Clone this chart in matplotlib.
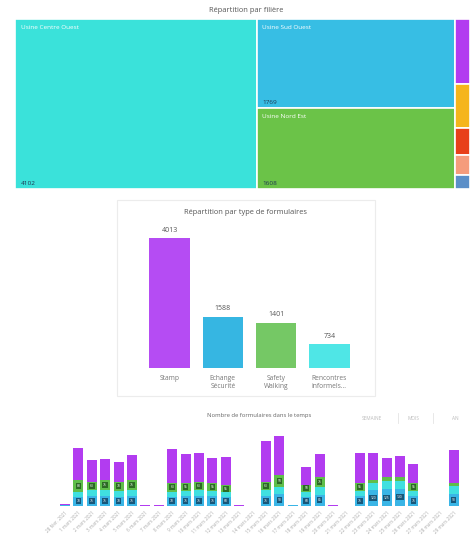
import numpy as np
import matplotlib.pyplot as plt
from matplotlib.patches import Rectangle, FancyBboxPatch
from matplotlib.lines import Line2D

plt.rcParams['font.family'] = ['Open Sans', 'DejaVu Sans']

W, H = 470., 536.

# --- treemap : repartition par filiere
filieres = ['Usine Centre Ouest', 'Usine Sud Ouest', 'Usine Nord Est',
            'Usine Nord', 'Usine Est', 'Usine Sud', 'Usine Ouest', 'Siège']
filiere_vals = [4102, 1769, 1608, 95, 64, 40, 30, 20]
filiere_cols = ['#3AE2DA', '#37BEE4', '#6BC348', '#B23CF0',
                '#F5B51C', '#E8401A', '#F59C7C', '#5B8FC8']
tree_groups = [[0], [1, 2], [3, 4, 5, 6, 7]]

# --- barres : repartition par type de formulaires
types = ['Stamp', 'Echange\nSécurité', 'Safety\nWalking', 'Rencontres\ninformels...']
type_vals = [4013, 1588, 1401, 734]
type_cols = ['#B54CF3', '#36B6E2', '#75C865', '#4FE6E6']

# --- barres empilees : nombre de formulaires dans le temps
jours = ['28 févr. 2021', '1 mars 2021', '2 mars 2021', '3 mars 2021', '4 mars 2021',
         '5 mars 2021', '6 mars 2021', '7 mars 2021', '8 mars 2021', '9 mars 2021',
         '10 mars 2021', '11 mars 2021', '12 mars 2021', '13 mars 2021', '14 mars 2021',
         '15 mars 2021', '16 mars 2021', '17 mars 2021', '18 mars 2021', '19 mars 2021',
         '20 mars 2021', '21 mars 2021', '22 mars 2021', '23 mars 2021', '24 mars 2021',
         '25 mars 2021', '26 mars 2021', '27 mars 2021', '28 mars 2021', '29 mars 2021']
echange    = [8, 70, 75, 75, 70, 75, 3, 2, 70, 75, 75, 75, 68, 3, 1,
              75, 90, 4, 68, 85, 2, 1, 75, 120, 125, 130, 75, 1, 1, 90]
rencontres = [0, 38, 45, 45, 43, 45, 0, 0, 38, 40, 45, 40, 35, 0, 0,
              45, 50, 0, 40, 55, 0, 0, 40, 50, 60, 55, 40, 0, 0, 60]
safety     = [0, 88, 63, 75, 70, 75, 0, 0, 63, 55, 63, 55, 55, 0, 0,
              63, 93, 0, 50, 75, 0, 0, 55, 25, 30, 30, 55, 0, 0, 20]
stamp      = [6, 240, 163, 158, 150, 188, 2, 2, 255, 225, 213, 193, 213, 2, 1,
              308, 295, 5, 138, 180, 2, 1, 230, 205, 150, 160, 150, 1, 2, 255]
series = [('Echange Sécurité', echange, '#3AB5E6', '#17577A'),
          ('Rencontres informelles', rencontres, '#40E0E0', None),
          ('Safety Walking', safety, '#5FBE4A', '#2C6A25'),
          ('Stamp', stamp, '#B23CF0', None)]
boutons = ['SEMAINE', 'MOIS', 'AN']


def box(x0, y0, x1, y1):
    # pixel box (top-left origin) -> figure fraction
    return [x0 / W, 1 - y1 / H, (x1 - x0) / W, (y1 - y0) / H]


fig = plt.figure(figsize=(4.7, 5.36), dpi=100)

# ---------------- treemap
ax1 = fig.add_axes(box(15, 19, 470, 189))
ax1.set_xlim(0, 1)
ax1.set_ylim(0, 1)
ax1.axis('off')
total = float(sum(filiere_vals))
x0 = 0.
for grp in tree_groups:
    gsum = float(sum(filiere_vals[i] for i in grp))
    w = gsum / total
    y0 = 1.
    for i in grp:
        h = filiere_vals[i] / gsum
        ax1.add_patch(Rectangle((x0, y0 - h), w, h, fc=filiere_cols[i], ec='white', lw=1.2))
        if w > 0.2:
            ax1.annotate(filieres[i], (x0, y0), xytext=(4, -4), textcoords='offset points',
                         ha='left', va='top', fontsize=4.6, color='white')
            ax1.annotate(str(filiere_vals[i]), (x0, y0 - h), xytext=(4, 2),
                         textcoords='offset points', ha='left', va='bottom',
                         fontsize=4.6, color='#1E3550')
        y0 -= h
    x0 += w
fig.text(246 / W, 1 - 11 / H, 'Répartition par filière', ha='center', va='center',
         fontsize=5.4, color='#555555')

# ---------------- carte + barres
card = FancyBboxPatch((117 / W, 1 - 396 / H), 258 / W, 196 / H,
                      boxstyle='square,pad=0', transform=fig.transFigure,
                      fc='none', ec='#ECECEC', lw=0.8, zorder=-1)
fig.patches.append(card)

ax2 = fig.add_axes(box(143, 225, 356, 368))
xpos = np.arange(len(types))
ax2.bar(xpos, type_vals, width=0.76, color=type_cols)
for xi, v in zip(xpos, type_vals):
    ax2.annotate(str(v), (xi, v), xytext=(0, 3), textcoords='offset points',
                 ha='center', va='bottom', fontsize=5, color='#555555')
ax2.set_xlim(-0.5, len(types) - 0.5)
ax2.set_ylim(0, max(type_vals) * 1.1)
ax2.set_xticks(xpos)
ax2.set_xticklabels(types, fontsize=4.8, color='#777777', linespacing=1.25)
ax2.tick_params(axis='x', length=0, pad=5)
ax2.set_yticks([])
for s in ax2.spines.values():
    s.set_visible(False)
ax2.patch.set_alpha(0)
fig.text(245 / W, 1 - 213 / H, 'Répartition par type de formulaires', ha='center',
         va='center', fontsize=5.4, color='#555555')

# ---------------- barres empilees
ax3 = fig.add_axes(box(58.3, 430, 460.3, 506))
xd = np.arange(len(jours))
bottom = np.zeros(len(jours))
for name, vals, col, lab in series:
    vals = np.array(vals, dtype=float)
    ax3.bar(xd, vals, width=0.75, bottom=bottom, color=col, label=name)
    if lab is not None:
        for xi, b, v in zip(xd, bottom, vals):
            if v >= 40:
                ax3.text(xi, b + v / 2., str(int(v)), ha='center', va='center',
                         fontsize=2.4, color='white',
                         bbox=dict(boxstyle='square,pad=0.3', fc=lab, ec='none'))
    bottom += vals
ax3.set_xlim(-0.5, len(jours) - 0.5)
ax3.set_ylim(0, 573)
ax3.set_xticks(xd)
ax3.set_xticklabels(jours, rotation=45, ha='right', rotation_mode='anchor',
                    fontsize=3.3, color='#AAAAAA')
ax3.tick_params(axis='x', length=0, pad=3)
ax3.set_yticks([])
for s in ax3.spines.values():
    s.set_visible(False)
ax3.patch.set_alpha(0)

fig.text(259 / W, 1 - 415 / H, 'Nombre de formulaires dans le temps', ha='center',
         va='center', fontsize=4.2, color='#666666')
for bx, txt in zip([372, 414, 455], boutons):
    fig.text(bx / W, 1 - 418 / H, txt, ha='center', va='center', fontsize=3.4,
             color='#BBBBBB')
for sx in [398, 433]:
    fig.lines.append(Line2D([sx / W, sx / W], [1 - 413 / H, 1 - 423 / H],
                            transform=fig.transFigure, color='#E4E4E4', lw=0.6))

fig.savefig('out.png', dpi=100)
